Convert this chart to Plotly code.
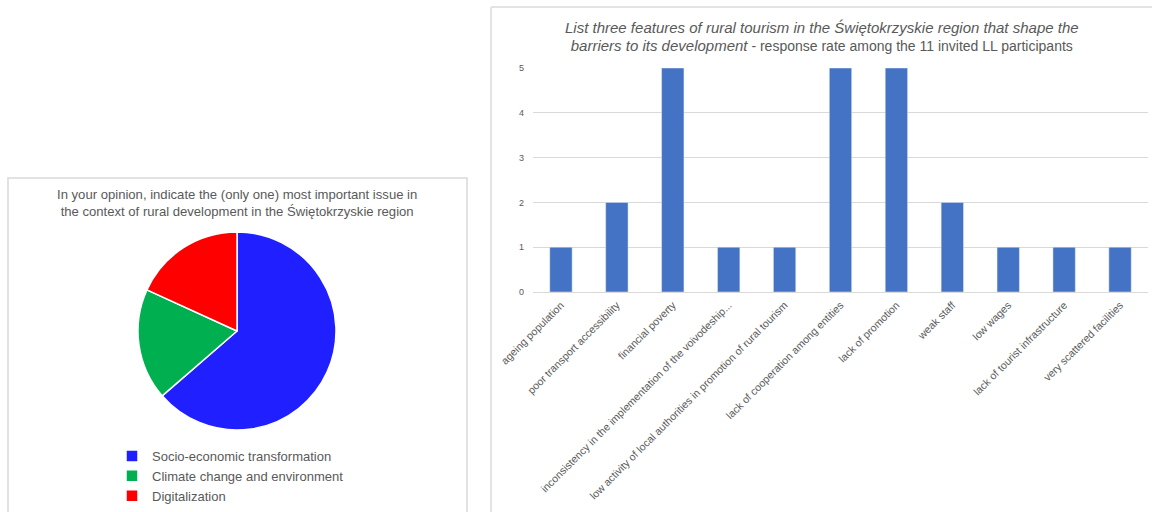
import plotly.graph_objects as go

W, H = 1152, 512

pie_labels = ["Socio-economic transformation", "Climate change and environment", "Digitalization"]
pie_values = [7, 2, 2]
pie_colors = ["#1f1fff", "#00b050", "#ff0000"]

bar_categories = [
    "ageing population",
    "poor transport accessibility",
    "financial poverty",
    "inconsistency in the implementation of the voivodeship...",
    "low activity of local authorities in promotion of rural tourism",
    "lack of cooperation among entities",
    "lack of promotion",
    "weak staff",
    "low wages",
    "lack of tourist infrastructure",
    "very scattered facilities",
]
bar_values = [1, 2, 5, 1, 1, 5, 5, 2, 1, 1, 1]

pie_title = ("In your opinion, indicate the (only one) most important issue in<br>"
             "the context of rural development in the Świętokrzyskie region")
bar_title = ("<i><span style='font-size:15px'>List three features of rural tourism in the Świętokrzyskie region that shape the</span></i><br>"
             "<i><span style='font-size:15px'>barriers to its development</span></i> - response rate among the 11 invited LL participants")


def px(x):
    return x / W


def py(y):
    return 1 - y / H


FONT = "Liberation Sans"
GREY = "#595959"

fig = go.Figure()

fig.add_trace(go.Pie(
    labels=pie_labels,
    values=pie_values,
    marker=dict(colors=pie_colors, line=dict(color="white", width=1.5)),
    sort=False,
    direction="clockwise",
    rotation=0,
    textinfo="none",
    hoverinfo="label+value",
    domain=dict(x=[px(138), px(336)], y=[py(430), py(232)]),
    showlegend=True,
))

fig.add_trace(go.Bar(
    x=bar_categories,
    y=bar_values,
    marker=dict(color="#4472c4"),
    showlegend=False,
    xaxis="x",
    yaxis="y",
))

fig.update_layout(
    width=W,
    height=H,
    autosize=False,
    margin=dict(l=0, r=0, t=0, b=0, pad=0, autoexpand=False),
    paper_bgcolor="white",
    plot_bgcolor="white",
    font=dict(family=FONT, color=GREY),
    bargap=0.6,
    xaxis=dict(
        domain=[px(533), px(1148)],
        tickangle=-45,
        tickfont=dict(size=10.6, color=GREY, family=FONT),
        showline=False,
        showgrid=False,
        ticks="",
        ticklabelshift=0,
        ticklabelstandoff=4,
        automargin=False,
        anchor="y",
    ),
    yaxis=dict(
        domain=[py(292), py(68)],
        range=[0, 5],
        dtick=1,
        tickfont=dict(size=9, color=GREY, family=FONT),
        gridcolor="#d9d9d9",
        gridwidth=1,
        zeroline=True,
        zerolinecolor="#d9d9d9",
        zerolinewidth=1,
        showline=False,
        ticks="",
        ticklabelstandoff=8,
        automargin=False,
        anchor="x",
    ),
    legend=dict(
        x=px(112),
        y=py(441),
        xanchor="left",
        yanchor="top",
        font=dict(size=13, color=GREY, family=FONT),
        bgcolor="rgba(0,0,0,0)",
        tracegroupgap=0,
    ),
    annotations=[
        dict(text=pie_title, x=px(237), y=py(203), xref="paper", yref="paper",
             xanchor="center", yanchor="middle", showarrow=False,
             font=dict(size=13.1, color=GREY, family=FONT)),
        dict(text=bar_title, x=px(822), y=py(36.5), xref="paper", yref="paper",
             xanchor="center", yanchor="middle", showarrow=False,
             font=dict(size=14, color=GREY, family=FONT)),
    ],
    shapes=[
        dict(type="rect", xref="paper", yref="paper",
             x0=px(8), x1=px(467), y0=py(178), y1=py(530),
             line=dict(color="#d9d9d9", width=1.5), layer="below"),
        dict(type="line", xref="paper", yref="paper",
             x0=px(491), x1=px(1170), y0=py(7), y1=py(7),
             line=dict(color="#e3e3e3", width=2), layer="below"),
        dict(type="line", xref="paper", yref="paper",
             x0=px(491), x1=px(491), y0=py(7), y1=py(530),
             line=dict(color="#e3e3e3", width=2), layer="below"),
    ],
)

fig.write_html("out.html")
